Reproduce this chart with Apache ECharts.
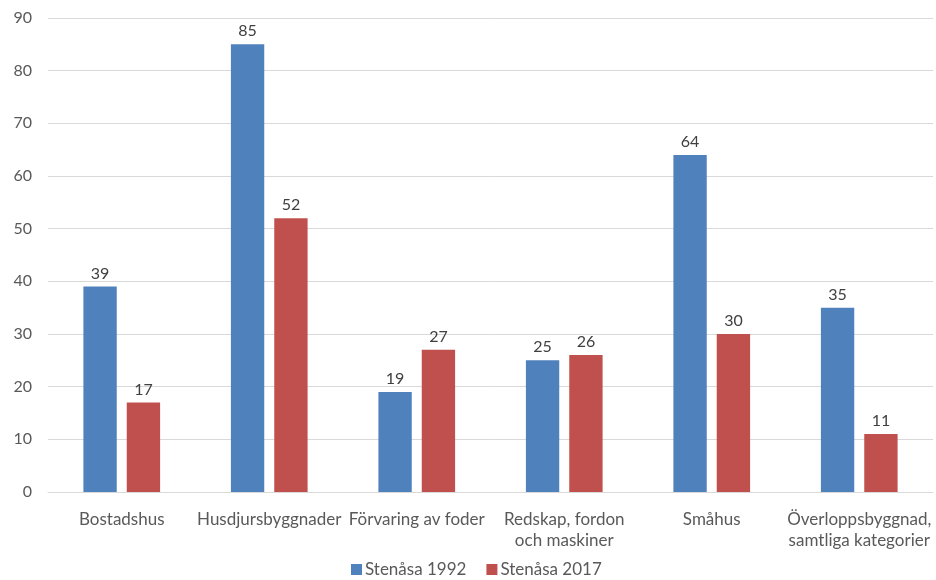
<!DOCTYPE html>
<html><head><meta charset="utf-8">
<script src="https://cdn.jsdelivr.net/npm/echarts@6/dist/echarts.min.js"></script>
<style>html,body{margin:0;padding:0;background:#fff}#c{width:936px;height:580px}</style>
</head><body><div id="c"></div>
<script>
const categories = ["Bostadshus", "Husdjursbyggnader", "Förvaring av foder", "Redskap, fordon\noch maskiner", "Småhus", "Överloppsbyggnad,\nsamtliga kategorier"];
const seriesNames = ["Stenåsa 1992", "Stenåsa 2017"];
const values1992 = [39, 85, 19, 25, 64, 35];
const values2017 = [17, 52, 27, 26, 30, 11];
const yTicks = {min: 0, max: 90, interval: 10};

const font = 'Lato, "Open Sans", sans-serif';
const chart = echarts.init(document.getElementById('c'));
chart.setOption({
  animation: false,
  textStyle: {fontFamily: font},
  color: ['#4F81BD', '#C0504D'],
  grid: {left: 48, right: 3, top: 18, bottom: 88},
  legend: {
    top: 561, left: 351, itemWidth: 11, itemHeight: 11, itemGap: 20,
    icon: 'rect', padding: 0,
    textStyle: {fontFamily: font, fontSize: 17, color: '#595959', padding: [0, 0, 0, -2]},
    data: seriesNames
  },
  xAxis: {
    type: 'category', data: categories,
    axisLine: {lineStyle: {color: '#D9D9D9'}},
    axisTick: {show: false},
    axisLabel: {interval: 0, fontFamily: font, fontSize: 17, color: '#595959', margin: 17, lineHeight: 21}
  },
  yAxis: {
    type: 'value', min: yTicks.min, max: yTicks.max, interval: yTicks.interval,
    axisLine: {show: false}, axisTick: {show: false},
    splitLine: {lineStyle: {color: '#D9D9D9'}},
    axisLabel: {fontFamily: font, fontSize: 16, color: '#595959', margin: 16}
  },
  series: [
    {name: seriesNames[0], type: 'bar', data: values1992, barGap: '30%', barCategoryGap: '48%',
     label: {show: true, position: 'top', distance: 5, fontFamily: font, fontSize: 16, color: '#404040'}},
    {name: seriesNames[1], type: 'bar', data: values2017,
     label: {show: true, position: 'top', distance: 5, fontFamily: font, fontSize: 16, color: '#404040'}}
  ]
});
</script></body></html>
